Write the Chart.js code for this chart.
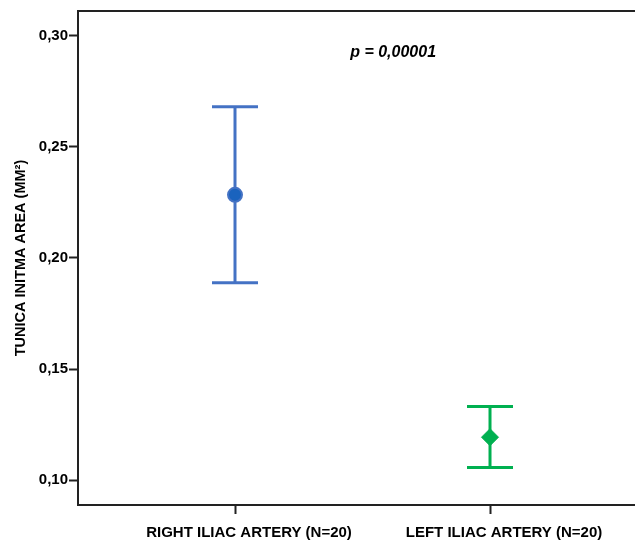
<!DOCTYPE html>
<html>
<head>
<meta charset="UTF-8">
<title>Tunica intima area</title>
<script src="https://cdn.jsdelivr.net/npm/chart.js@4/dist/chart.umd.min.js"></script>
<style>
  body { margin: 0; background: #fff; }
  #wrap { width: 635px; height: 545px; }
</style>
</head>
<body>
<div id="wrap"><canvas id="chart" width="635" height="545"></canvas></div>
<script>
// data
var groupLabels = ['RIGHT ILIAC ARTERY (N=20)', 'LEFT ILIAC ARTERY (N=20)'];
var groupPos = [1, 2];
var meanValues = [0.2284, 0.1194];
var ciLower = [0.1889, 0.1058];
var ciUpper = [0.2680, 0.1332];
var yTickValues = [0.10, 0.15, 0.20, 0.25, 0.30];
var pText = 'p = 0,00001';

var blue = '#4472C4';
var blueDark = '#1A63BE';
var green = '#00B050';
var axisColor = '#222';
var fontFamily = '"Liberation Sans", Arial, sans-serif';

// whisker + caps for one group
var whisker = function(i, color) {
  return {
    type: 'line',
    data: [{x: groupPos[i], y: ciLower[i]}, {x: groupPos[i], y: ciUpper[i]}],
    borderColor: color,
    borderWidth: 3,
    pointStyle: 'line',
    pointRadius: 23,
    pointBorderWidth: 3,
    pointBorderColor: color,
    order: 2
  }
}

var pLabel = {
  id: 'pLabel',
  afterDatasetsDraw: function(chart) {
    var ctx = chart.ctx
    var x = chart.scales.x.getPixelForValue(1.62)
    var y = chart.scales.y.getPixelForValue(0.2922)
    ctx.save()
    ctx.font = 'italic bold 16px ' + fontFamily
    ctx.fillStyle = '#000'
    ctx.textAlign = 'center'
    ctx.textBaseline = 'middle'
    ctx.fillText(pText, x, y)
    ctx.restore()
  }
}

var chart = new Chart(document.getElementById('chart'), {
  data: {
    datasets: [{
      type: 'scatter',
      data: [{x: groupPos[0], y: meanValues[0]}],
      pointStyle: 'circle',
      pointRadius: 7,
      pointBackgroundColor: blueDark,
      pointBorderColor: blue,
      pointBorderWidth: 2,
      order: 1
    }, {
      type: 'scatter',
      data: [{x: groupPos[1], y: meanValues[1]}],
      pointStyle: 'rectRot',
      pointRadius: 8.5,
      pointBackgroundColor: green,
      pointBorderColor: green,
      pointBorderWidth: 1,
      order: 1
    },
    whisker(0, blue),
    whisker(1, green)]
  },
  options: {
    responsive: false,
    animation: false,
    events: [],
    layout: { autoPadding: false, padding: { top: 11, right: 0, bottom: 0, left: 0 } },
    plugins: { legend: { display: false }, tooltip: { enabled: false } },
    scales: {
      x: {
        type: 'linear',
        position: 'bottom',
        min: 0.3843,
        max: 2.5686,
        afterBuildTicks: function(scale) {
          scale.ticks = groupPos.map(function(v) { return {value: v} })
        },
        afterFit: function(scale) { scale.height = 40 },
        grid: { drawOnChartArea: false, drawTicks: true, tickLength: 9, tickWidth: 2, tickColor: axisColor },
        border: { display: true, width: 2, color: axisColor },
        ticks: {
          padding: 10,
          labelOffset: 14,
          maxRotation: 0,
          color: '#000',
          font: { family: fontFamily, size: 15, weight: 'bold' },
          callback: function(v) {
            var i = groupPos.indexOf(v)
            return i >= 0 ? groupLabels[i] : ''
          }
        }
      },
      xTop: {
        type: 'linear',
        position: 'top',
        min: 0.3843,
        max: 2.5686,
        afterFit: function(scale) { scale.height = 0 },
        grid: { display: false, drawTicks: false },
        border: { display: true, width: 2, color: axisColor },
        ticks: { display: false }
      },
      y: {
        type: 'linear',
        position: 'left',
        min: 0.0889,
        max: 0.3111,
        afterBuildTicks: function(scale) {
          scale.ticks = yTickValues.map(function(v) { return {value: v} })
        },
        afterFit: function(scale) { scale.width = 78 },
        grid: { drawOnChartArea: false, drawTicks: true, tickLength: 9, tickWidth: 2, tickColor: axisColor },
        border: { display: true, width: 2, color: axisColor },
        ticks: {
          padding: 1,
          color: '#000',
          font: { family: fontFamily, size: 15, weight: 'bold' },
          callback: function(v) { return v.toFixed(2).replace('.', ',') }
        },
        title: {
          display: true,
          text: 'TUNICA INITMA AREA (MM\u00B2)',
          color: '#000',
          padding: { top: 12, bottom: 0 },
          font: { family: fontFamily, size: 14.5, weight: 'bold' }
        }
      }
    }
  },
  plugins: [pLabel]
})
</script>
</body>
</html>
